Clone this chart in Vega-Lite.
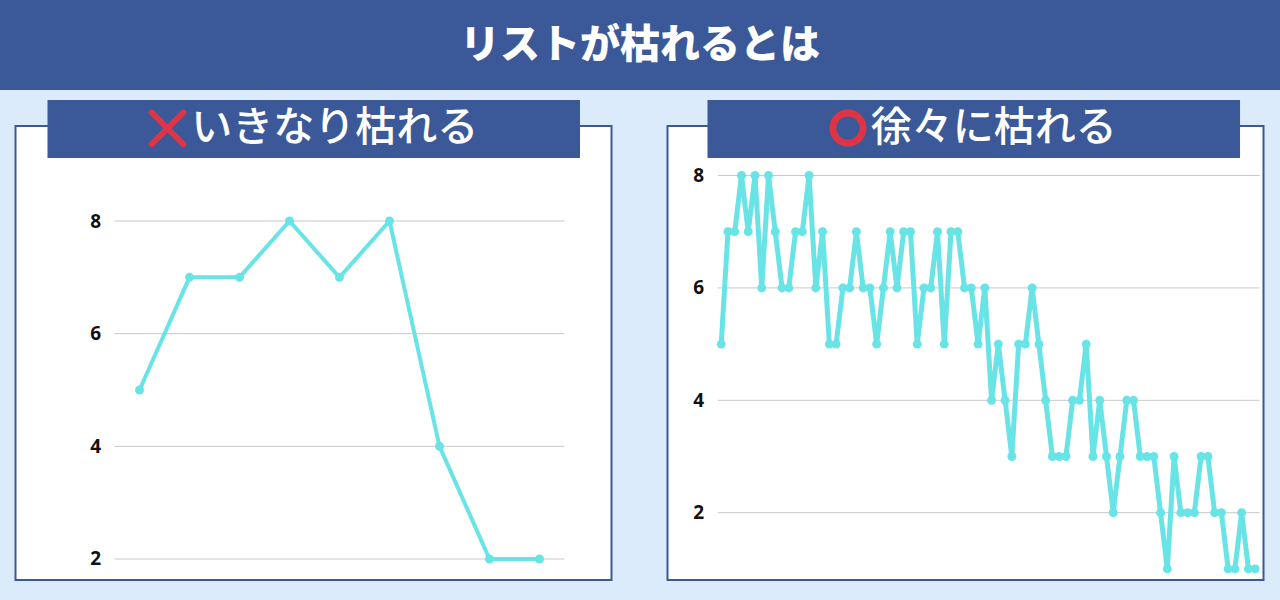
{
  "$schema": "https://vega.github.io/schema/vega-lite/v6.json",
  "background": "#dcebfc",
  "padding": {"left": 0, "top": 0, "right": 0, "bottom": 20},
  "autosize": {"type": "pad"},
  "config": {
    "font": "Noto Sans CJK JP",
    "concat": {"spacing": 56}
  },
  "vconcat": [
    {
      "width": 1280,
      "height": 90,
      "view": {"fill": "#3b5998", "stroke": null},
      "data": {"values": [{"heading": "リストが枯れるとは"}]},
      "mark": {"type": "text", "color": "white", "fontSize": 40, "fontWeight": 900, "font": "Noto Sans CJK JP", "align": "center", "baseline": "middle", "dy": 1},
      "encoding": {"text": {"field": "heading"}}
    },
    {
      "hconcat": [
        {
          "width": 596,
          "height": 454,
          "view": {"fill": "white", "stroke": "#3b5998", "strokeWidth": 2},
          "layer": [
            {
              "data": {"values": [{"g": 2}, {"g": 4}, {"g": 6}, {"g": 8}]},
              "mark": {"type": "rule", "color": "#c8c8c8", "strokeWidth": 1},
              "encoding": {
                "y": {"field": "g", "type": "quantitative", "scale": {"domain": [1.6272, 9.6865], "nice": false, "zero": false},
                  "axis": {"values": [2, 4, 6, 8], "format": "d", "grid": false, "domain": false, "ticks": false, "tickSize": 0, "labelPadding": 0, "offset": -85, "title": null, "labelFontSize": 19, "labelFont": "Noto Sans", "labelFontWeight": "bold", "labelColor": "#111111"}},
                "x": {"datum": 0.5, "type": "quantitative", "scale": {"domain": [-1.48, 10.44], "nice": false, "zero": false}, "axis": null},
                "x2": {"datum": 9.5}
              }
            },
            {
              "data": {"values": [
                {"n": 1, "count": 5}, {"n": 2, "count": 7}, {"n": 3, "count": 7}, {"n": 4, "count": 8}, {"n": 5, "count": 7},
                {"n": 6, "count": 8}, {"n": 7, "count": 4}, {"n": 8, "count": 2}, {"n": 9, "count": 2}
              ]},
              "mark": {"type": "line", "color": "#68e3e6", "strokeWidth": 4, "strokeJoin": "round", "point": {"filled": true, "size": 80, "color": "#68e3e6"}},
              "encoding": {
                "x": {"field": "n", "type": "quantitative"},
                "y": {"field": "count", "type": "quantitative"}
              }
            },
            {
              "data": {"values": [{"label": "いきなり枯れる"}]},
              "layer": [
                {
                  "mark": {"type": "rect", "color": "#3b5998"},
                  "encoding": {"x": {"datum": -0.84, "type": "quantitative"}, "x2": {"datum": 9.81}, "y": {"datum": 10.148, "type": "quantitative"}, "y2": {"datum": 9.1184}}
                },
                {
                  "mark": {"type": "point", "shape": "M-1,-1L1,1M1,-1L-1,1", "filled": false, "color": "#dc3545", "strokeWidth": 6, "strokeCap": "round", "size": 1000, "opacity": 1},
                  "encoding": {"x": {"datum": 1.56, "type": "quantitative"}, "y": {"datum": 9.6457, "type": "quantitative"}}
                },
                {
                  "mark": {"type": "text", "color": "white", "fontSize": 41, "fontWeight": 500, "font": "Noto Sans CJK JP", "align": "center", "baseline": "middle"},
                  "encoding": {"x": {"datum": 4.906, "type": "quantitative"}, "y": {"datum": 9.6332, "type": "quantitative"}, "text": {"field": "label"}}
                }
              ]
            }
          ]
        },
        {
          "width": 596,
          "height": 454,
          "view": {"fill": "white", "stroke": "#3b5998", "strokeWidth": 2},
          "layer": [
            {
              "data": {"values": [{"g": 2}, {"g": 4}, {"g": 6}, {"g": 8}]},
              "mark": {"type": "rule", "color": "#c8c8c8", "strokeWidth": 1},
              "encoding": {
                "y": {"field": "g", "type": "quantitative", "scale": {"domain": [0.8025, 8.881], "nice": false, "zero": false},
                  "axis": {"values": [2, 4, 6, 8], "format": "d", "grid": false, "domain": false, "ticks": false, "tickSize": 0, "labelPadding": 0, "offset": -36, "title": null, "labelFontSize": 19, "labelFont": "Noto Sans", "labelFontWeight": "bold", "labelColor": "#111111"}},
                "x": {"datum": 0.5, "type": "quantitative", "scale": {"domain": [-6.945, 81.23], "nice": false, "zero": false}, "axis": null},
                "x2": {"datum": 80.65}
              }
            },
            {
              "data": {"values": [
                {"n": 1, "count": 5}, {"n": 2, "count": 7}, {"n": 3, "count": 7}, {"n": 4, "count": 8}, {"n": 5, "count": 7},
                {"n": 6, "count": 8}, {"n": 7, "count": 6}, {"n": 8, "count": 8}, {"n": 9, "count": 7}, {"n": 10, "count": 6},
                {"n": 11, "count": 6}, {"n": 12, "count": 7}, {"n": 13, "count": 7}, {"n": 14, "count": 8}, {"n": 15, "count": 6},
                {"n": 16, "count": 7}, {"n": 17, "count": 5}, {"n": 18, "count": 5}, {"n": 19, "count": 6}, {"n": 20, "count": 6},
                {"n": 21, "count": 7}, {"n": 22, "count": 6}, {"n": 23, "count": 6}, {"n": 24, "count": 5}, {"n": 25, "count": 6},
                {"n": 26, "count": 7}, {"n": 27, "count": 6}, {"n": 28, "count": 7}, {"n": 29, "count": 7}, {"n": 30, "count": 5},
                {"n": 31, "count": 6}, {"n": 32, "count": 6}, {"n": 33, "count": 7}, {"n": 34, "count": 5}, {"n": 35, "count": 7},
                {"n": 36, "count": 7}, {"n": 37, "count": 6}, {"n": 38, "count": 6}, {"n": 39, "count": 5}, {"n": 40, "count": 6},
                {"n": 41, "count": 4}, {"n": 42, "count": 5}, {"n": 43, "count": 4}, {"n": 44, "count": 3}, {"n": 45, "count": 5},
                {"n": 46, "count": 5}, {"n": 47, "count": 6}, {"n": 48, "count": 5}, {"n": 49, "count": 4}, {"n": 50, "count": 3},
                {"n": 51, "count": 3}, {"n": 52, "count": 3}, {"n": 53, "count": 4}, {"n": 54, "count": 4}, {"n": 55, "count": 5},
                {"n": 56, "count": 3}, {"n": 57, "count": 4}, {"n": 58, "count": 3}, {"n": 59, "count": 2}, {"n": 60, "count": 3},
                {"n": 61, "count": 4}, {"n": 62, "count": 4}, {"n": 63, "count": 3}, {"n": 64, "count": 3}, {"n": 65, "count": 3},
                {"n": 66, "count": 2}, {"n": 67, "count": 1}, {"n": 68, "count": 3}, {"n": 69, "count": 2}, {"n": 70, "count": 2},
                {"n": 71, "count": 2}, {"n": 72, "count": 3}, {"n": 73, "count": 3}, {"n": 74, "count": 2}, {"n": 75, "count": 2},
                {"n": 76, "count": 1}, {"n": 77, "count": 1}, {"n": 78, "count": 2}, {"n": 79, "count": 1}, {"n": 80, "count": 1}
              ]},
              "mark": {"type": "line", "color": "#68e3e6", "strokeWidth": 5, "strokeJoin": "round", "point": {"filled": true, "size": 80, "color": "#68e3e6"}},
              "encoding": {
                "x": {"field": "n", "type": "quantitative"},
                "y": {"field": "count", "type": "quantitative"}
              }
            },
            {
              "data": {"values": [{"label": "徐々に枯れる"}]},
              "layer": [
                {
                  "mark": {"type": "rect", "color": "#3b5998"},
                  "encoding": {"x": {"datum": -1.027, "type": "quantitative"}, "x2": {"datum": 77.76}, "y": {"datum": 9.344, "type": "quantitative"}, "y2": {"datum": 8.312}}
                },
                {
                  "mark": {"type": "point", "shape": "circle", "filled": false, "color": "#dc3545", "strokeWidth": 7, "size": 908, "opacity": 1},
                  "encoding": {"x": {"datum": 19.75, "type": "quantitative"}, "y": {"datum": 8.845, "type": "quantitative"}}
                },
                {
                  "mark": {"type": "text", "color": "white", "fontSize": 41, "fontWeight": 500, "font": "Noto Sans CJK JP", "align": "center", "baseline": "middle"},
                  "encoding": {"x": {"datum": 41.32, "type": "quantitative"}, "y": {"datum": 8.8365, "type": "quantitative"}, "text": {"field": "label"}}
                }
              ]
            }
          ]
        }
      ],
      "bounds": "flush"
    }
  ],
  "spacing": 7,
  "center": true
}
